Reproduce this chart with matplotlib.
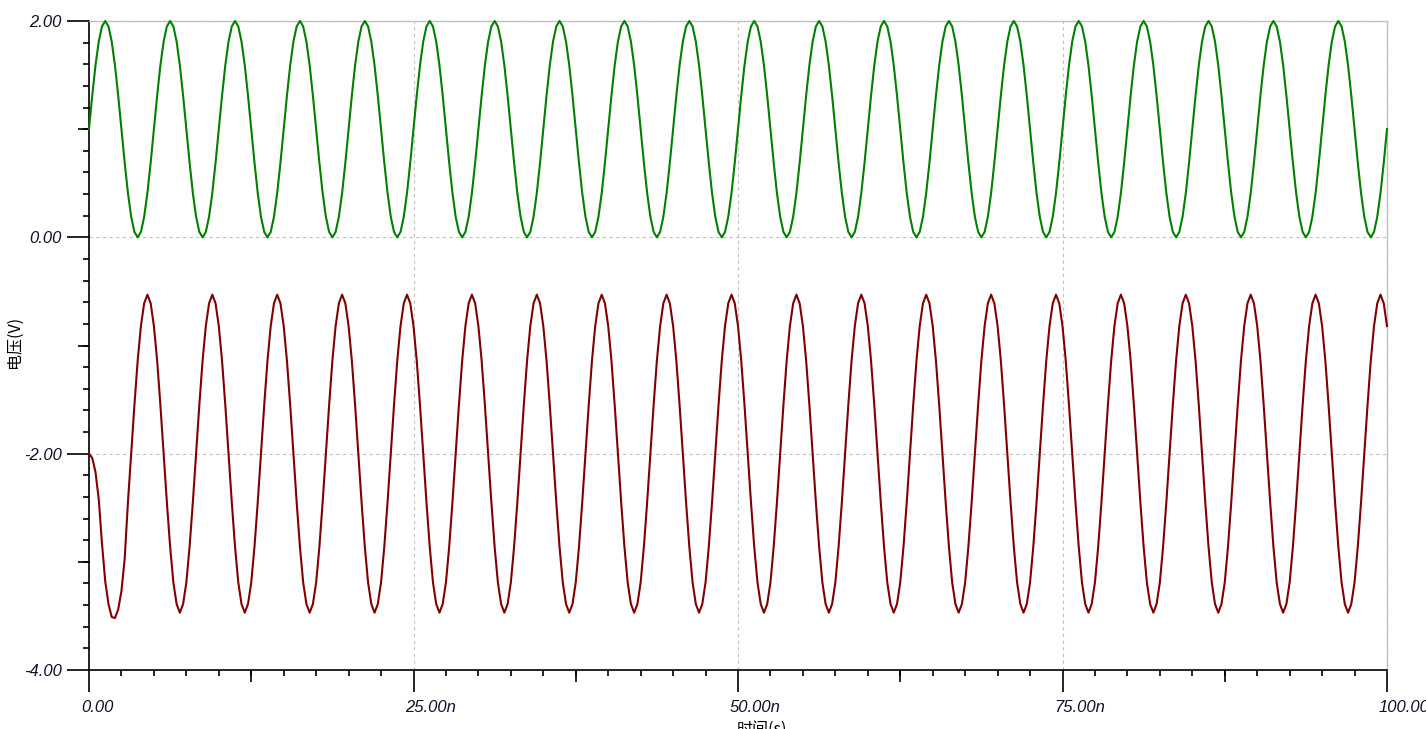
import numpy as np
import matplotlib
matplotlib.use("Agg")
import matplotlib.pyplot as plt
from matplotlib.ticker import MultipleLocator
from matplotlib.transforms import ScaledTranslation

# transient simulation, 100 ns window, one sample every 0.25 ns
time_ns = np.linspace(0, 100, 401)

# green trace: input node, 0 V .. 2 V
v_in = [
    1.00, 1.31, 1.59, 1.81, 1.95, 2.00, 1.95, 1.81, 1.59, 1.31, 1.00, 0.69, 0.41, 0.19, 0.05, 0.00, 0.05, 0.19, 0.41, 0.69,
    1.00, 1.31, 1.59, 1.81, 1.95, 2.00, 1.95, 1.81, 1.59, 1.31, 1.00, 0.69, 0.41, 0.19, 0.05, 0.00, 0.05, 0.19, 0.41, 0.69,
    1.00, 1.31, 1.59, 1.81, 1.95, 2.00, 1.95, 1.81, 1.59, 1.31, 1.00, 0.69, 0.41, 0.19, 0.05, 0.00, 0.05, 0.19, 0.41, 0.69,
    1.00, 1.31, 1.59, 1.81, 1.95, 2.00, 1.95, 1.81, 1.59, 1.31, 1.00, 0.69, 0.41, 0.19, 0.05, 0.00, 0.05, 0.19, 0.41, 0.69,
    1.00, 1.31, 1.59, 1.81, 1.95, 2.00, 1.95, 1.81, 1.59, 1.31, 1.00, 0.69, 0.41, 0.19, 0.05, 0.00, 0.05, 0.19, 0.41, 0.69,
    1.00, 1.31, 1.59, 1.81, 1.95, 2.00, 1.95, 1.81, 1.59, 1.31, 1.00, 0.69, 0.41, 0.19, 0.05, 0.00, 0.05, 0.19, 0.41, 0.69,
    1.00, 1.31, 1.59, 1.81, 1.95, 2.00, 1.95, 1.81, 1.59, 1.31, 1.00, 0.69, 0.41, 0.19, 0.05, 0.00, 0.05, 0.19, 0.41, 0.69,
    1.00, 1.31, 1.59, 1.81, 1.95, 2.00, 1.95, 1.81, 1.59, 1.31, 1.00, 0.69, 0.41, 0.19, 0.05, 0.00, 0.05, 0.19, 0.41, 0.69,
    1.00, 1.31, 1.59, 1.81, 1.95, 2.00, 1.95, 1.81, 1.59, 1.31, 1.00, 0.69, 0.41, 0.19, 0.05, 0.00, 0.05, 0.19, 0.41, 0.69,
    1.00, 1.31, 1.59, 1.81, 1.95, 2.00, 1.95, 1.81, 1.59, 1.31, 1.00, 0.69, 0.41, 0.19, 0.05, 0.00, 0.05, 0.19, 0.41, 0.69,
    1.00, 1.31, 1.59, 1.81, 1.95, 2.00, 1.95, 1.81, 1.59, 1.31, 1.00, 0.69, 0.41, 0.19, 0.05, 0.00, 0.05, 0.19, 0.41, 0.69,
    1.00, 1.31, 1.59, 1.81, 1.95, 2.00, 1.95, 1.81, 1.59, 1.31, 1.00, 0.69, 0.41, 0.19, 0.05, 0.00, 0.05, 0.19, 0.41, 0.69,
    1.00, 1.31, 1.59, 1.81, 1.95, 2.00, 1.95, 1.81, 1.59, 1.31, 1.00, 0.69, 0.41, 0.19, 0.05, 0.00, 0.05, 0.19, 0.41, 0.69,
    1.00, 1.31, 1.59, 1.81, 1.95, 2.00, 1.95, 1.81, 1.59, 1.31, 1.00, 0.69, 0.41, 0.19, 0.05, 0.00, 0.05, 0.19, 0.41, 0.69,
    1.00, 1.31, 1.59, 1.81, 1.95, 2.00, 1.95, 1.81, 1.59, 1.31, 1.00, 0.69, 0.41, 0.19, 0.05, 0.00, 0.05, 0.19, 0.41, 0.69,
    1.00, 1.31, 1.59, 1.81, 1.95, 2.00, 1.95, 1.81, 1.59, 1.31, 1.00, 0.69, 0.41, 0.19, 0.05, 0.00, 0.05, 0.19, 0.41, 0.69,
    1.00, 1.31, 1.59, 1.81, 1.95, 2.00, 1.95, 1.81, 1.59, 1.31, 1.00, 0.69, 0.41, 0.19, 0.05, 0.00, 0.05, 0.19, 0.41, 0.69,
    1.00, 1.31, 1.59, 1.81, 1.95, 2.00, 1.95, 1.81, 1.59, 1.31, 1.00, 0.69, 0.41, 0.19, 0.05, 0.00, 0.05, 0.19, 0.41, 0.69,
    1.00, 1.31, 1.59, 1.81, 1.95, 2.00, 1.95, 1.81, 1.59, 1.31, 1.00, 0.69, 0.41, 0.19, 0.05, 0.00, 0.05, 0.19, 0.41, 0.69,
    1.00, 1.31, 1.59, 1.81, 1.95, 2.00, 1.95, 1.81, 1.59, 1.31, 1.00, 0.69, 0.41, 0.19, 0.05, 0.00, 0.05, 0.19, 0.41, 0.69,
    1.00,
]

# dark red trace: output node, starts at -2 V then swings -3.47 V .. -0.53 V
v_out = [
    -2.00, -2.04, -2.17, -2.42, -2.83, -3.18, -3.39, -3.51, -3.52, -3.44, -3.27, -2.97, -2.45, -2.00, -1.55, -1.14, -0.82, -0.61, -0.53, -0.61,
    -0.82, -1.14, -1.55, -2.00, -2.45, -2.86, -3.19, -3.39, -3.47, -3.39, -3.19, -2.86, -2.45, -2.00, -1.55, -1.14, -0.82, -0.61, -0.53, -0.61,
    -0.82, -1.14, -1.55, -2.00, -2.45, -2.86, -3.19, -3.39, -3.47, -3.39, -3.19, -2.86, -2.45, -2.00, -1.55, -1.14, -0.82, -0.61, -0.53, -0.61,
    -0.82, -1.14, -1.55, -2.00, -2.45, -2.86, -3.19, -3.39, -3.47, -3.39, -3.19, -2.86, -2.45, -2.00, -1.55, -1.14, -0.82, -0.61, -0.53, -0.61,
    -0.82, -1.14, -1.55, -2.00, -2.45, -2.86, -3.19, -3.39, -3.47, -3.39, -3.19, -2.86, -2.45, -2.00, -1.55, -1.14, -0.82, -0.61, -0.53, -0.61,
    -0.82, -1.14, -1.55, -2.00, -2.45, -2.86, -3.19, -3.39, -3.47, -3.39, -3.19, -2.86, -2.45, -2.00, -1.55, -1.14, -0.82, -0.61, -0.53, -0.61,
    -0.82, -1.14, -1.55, -2.00, -2.45, -2.86, -3.19, -3.39, -3.47, -3.39, -3.19, -2.86, -2.45, -2.00, -1.55, -1.14, -0.82, -0.61, -0.53, -0.61,
    -0.82, -1.14, -1.55, -2.00, -2.45, -2.86, -3.19, -3.39, -3.47, -3.39, -3.19, -2.86, -2.45, -2.00, -1.55, -1.14, -0.82, -0.61, -0.53, -0.61,
    -0.82, -1.14, -1.55, -2.00, -2.45, -2.86, -3.19, -3.39, -3.47, -3.39, -3.19, -2.86, -2.45, -2.00, -1.55, -1.14, -0.82, -0.61, -0.53, -0.61,
    -0.82, -1.14, -1.55, -2.00, -2.45, -2.86, -3.19, -3.39, -3.47, -3.39, -3.19, -2.86, -2.45, -2.00, -1.55, -1.14, -0.82, -0.61, -0.53, -0.61,
    -0.82, -1.14, -1.55, -2.00, -2.45, -2.86, -3.19, -3.39, -3.47, -3.39, -3.19, -2.86, -2.45, -2.00, -1.55, -1.14, -0.82, -0.61, -0.53, -0.61,
    -0.82, -1.14, -1.55, -2.00, -2.45, -2.86, -3.19, -3.39, -3.47, -3.39, -3.19, -2.86, -2.45, -2.00, -1.55, -1.14, -0.82, -0.61, -0.53, -0.61,
    -0.82, -1.14, -1.55, -2.00, -2.45, -2.86, -3.19, -3.39, -3.47, -3.39, -3.19, -2.86, -2.45, -2.00, -1.55, -1.14, -0.82, -0.61, -0.53, -0.61,
    -0.82, -1.14, -1.55, -2.00, -2.45, -2.86, -3.19, -3.39, -3.47, -3.39, -3.19, -2.86, -2.45, -2.00, -1.55, -1.14, -0.82, -0.61, -0.53, -0.61,
    -0.82, -1.14, -1.55, -2.00, -2.45, -2.86, -3.19, -3.39, -3.47, -3.39, -3.19, -2.86, -2.45, -2.00, -1.55, -1.14, -0.82, -0.61, -0.53, -0.61,
    -0.82, -1.14, -1.55, -2.00, -2.45, -2.86, -3.19, -3.39, -3.47, -3.39, -3.19, -2.86, -2.45, -2.00, -1.55, -1.14, -0.82, -0.61, -0.53, -0.61,
    -0.82, -1.14, -1.55, -2.00, -2.45, -2.86, -3.19, -3.39, -3.47, -3.39, -3.19, -2.86, -2.45, -2.00, -1.55, -1.14, -0.82, -0.61, -0.53, -0.61,
    -0.82, -1.14, -1.55, -2.00, -2.45, -2.86, -3.19, -3.39, -3.47, -3.39, -3.19, -2.86, -2.45, -2.00, -1.55, -1.14, -0.82, -0.61, -0.53, -0.61,
    -0.82, -1.14, -1.55, -2.00, -2.45, -2.86, -3.19, -3.39, -3.47, -3.39, -3.19, -2.86, -2.45, -2.00, -1.55, -1.14, -0.82, -0.61, -0.53, -0.61,
    -0.82, -1.14, -1.55, -2.00, -2.45, -2.86, -3.19, -3.39, -3.47, -3.39, -3.19, -2.86, -2.45, -2.00, -1.55, -1.14, -0.82, -0.61, -0.53, -0.61,
    -0.82,
]

# axis ticks and their labels
x_ticks = [0, 25, 50, 75, 100]
x_labels = ["0.00", "25.00n", "50.00n", "75.00n", "100.00n"]
y_ticks = [2, 0, -2, -4]
y_labels = ["2.00", "0.00", "-2.00", "-4.00"]

label_color = "#10102a"
tick_font = {"family": "Liberation Sans", "style": "italic", "size": 12}
cjk = ["Noto Sans CJK SC", "DejaVu Sans"]

fig = plt.figure(figsize=(14.26, 7.29), dpi=100)
ax = fig.add_axes([89 / 1426, 1 - 670 / 729, 1298 / 1426, 649 / 729])

ax.plot(time_ns, v_in, color="#008000", lw=1.5, clip_on=False, zorder=3)
ax.plot(time_ns, v_out, color="#800000", lw=1.5, clip_on=False, zorder=3)

ax.set_xlim(0, 100)
ax.set_ylim(-4, 2)

# dashed grid on the major ticks only
ax.grid(True, which="major", color="#c0c0c0", lw=0.8, linestyle=(0, (3, 3)))
ax.set_axisbelow(True)

# black left/bottom axes, light grey frame on the other two sides
for side in ["left", "bottom"]:
    ax.spines[side].set_color("black")
    ax.spines[side].set_linewidth(1.2)
for side in ["top", "right"]:
    ax.spines[side].set_color("#c0c0c0")
    ax.spines[side].set_linewidth(1.0)

ax.set_xticks(x_ticks)
ax.set_xticklabels(x_labels, fontdict=tick_font, color=label_color, ha="left")
ax.set_yticks(y_ticks)
ax.set_yticklabels(y_labels, fontdict=tick_font, color=label_color)
ax.xaxis.set_minor_locator(MultipleLocator(2.5))
ax.yaxis.set_minor_locator(MultipleLocator(0.2))
ax.tick_params(which="major", direction="out", length=16, width=1.2, color="black")
ax.tick_params(axis="x", which="major", pad=5.5)
ax.tick_params(axis="y", which="major", pad=3.5)
ax.tick_params(which="minor", direction="out", length=4.5, width=1.2, color="black")

# tick labels on x start a little left of their tick
shift = ScaledTranslation(-8 / 100, 0, fig.dpi_scale_trans)
for lbl in ax.get_xticklabels():
    lbl.set_transform(lbl.get_transform() + shift)

# middle-length ticks halfway between the majors
secx = ax.secondary_xaxis("bottom")
secx.set_xticks([12.5, 37.5, 62.5, 87.5])
secx.tick_params(length=8.5, width=1.2, color="black", labelbottom=False)
secx.spines["bottom"].set_visible(False)
secy = ax.secondary_yaxis("left")
secy.set_yticks([1, -1, -3])
secy.tick_params(length=8, width=1.2, color="black", labelleft=False)
secy.spines["left"].set_visible(False)

# axis titles
fig.text(14 / 1426, 1 - 342 / 729, "电压(V)", rotation=90, ha="center", va="center",
         fontsize=11.5, family=cjk, color="black")
fig.text(762 / 1426, 1 - 721 / 729, "时间(s)", ha="center", va="top",
         fontsize=11.5, family=cjk, color="black")

fig.savefig("out.png", dpi=100)
